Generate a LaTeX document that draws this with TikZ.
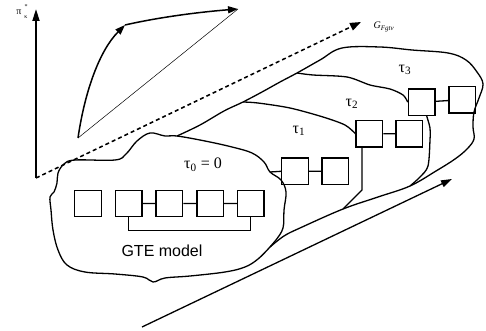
\documentclass[tikz,border=0pt]{standalone}
\usepackage{fontspec}
\setmainfont{Liberation Serif}
\setsansfont{Liberation Sans}
\usetikzlibrary{arrows.meta,positioning}

\begin{document}
\begin{tikzpicture}[x=1pt,y=-1pt,
    cell/.style={draw,line width=1.4pt,minimum size=26.5pt,inner sep=0pt},
    blob/.style={line width=1.3pt,line join=round},
    link/.style={line width=1.3pt},
    lbl/.style={font=\fontsize{16}{19}\selectfont,inner sep=0pt},
    small/.style={font=\fontsize{10}{12}\selectfont,inner sep=0pt},
    tiny/.style={font=\fontsize{6}{7}\selectfont,inner sep=0pt}]
		\useasboundingbox (0,0) rectangle (486,331);
		
		% --- Boxes ---
		\node[cell] (g1) at (88,203.5) {};
		\node[cell] (g2) [right=12.8pt of g1] {};
		\node[cell] (g3) [right=12.8pt of g2] {};
		\node[cell] (g4) [right=12.8pt of g3] {};
		\node[cell] (g5) [right=12.8pt of g4] {};
		\node[cell] (t1a) at (295,171.3) {};
		\node[cell] (t1b) [right=12.5pt of t1a] {};
		\node[cell] (t2a) at (369.3,133.7) {};
		\node[cell] (t2b) [right=12.2pt of t2a] {};
		\node[cell] (t3a) at (421.7,102.2) {};
		\node[cell] (t3b) [right=12.5pt of t3a, yshift=2.5pt] {};
		
		% --- Labels ---
		\node[lbl] (tau0) at (203,165) {τ\textsubscript{0} = 0};
		\node[lbl] (tau1) at (299,131) {τ\textsubscript{1}};
		\node[lbl] (tau2) at (352,104) {τ\textsubscript{2}};
		\node[lbl] (tau3) at (405,70) {τ\textsubscript{3}};
		\node[lbl, font=\sffamily\fontsize{16}{19}\selectfont] (gte) at (162,251) {GTE model};
		\node[small] (pilbl) at (19,12) {π};
		\node[tiny] (pisup) at (26,7) {*};
		\node[tiny] (pisub) at (26,17) {κ};
		\node[small] (glbl) at (384,27) {\textit{G}\textsubscript{\textit{Fgtv}}};
		
		% --- Axes ---
		\coordinate (o) at (36,178);
		\coordinate (ytop) at (36,9);
		\coordinate (gtop) at (361,22);
		\draw[-{Triangle[length=12pt,width=7pt]}, line width=1.8pt] (o) -- (ytop);
		\draw[-{Triangle[length=11pt,width=8pt]}, line width=1.5pt, dash pattern=on 4pt off 3pt] (o) -- (gtop);
		
		% --- Path in the plane ---
		\coordinate (p0) at (78,138);
		\coordinate (p1) at (125,25);
		\coordinate (p2) at (238,9);
		\draw[line width=0.5pt] (p0) -- (p2);
		\draw[-{Triangle[length=10pt,width=7pt]}, line width=1.5pt] (p0) .. controls (85,90) and (100,50) .. (p1);
		\draw[-{Triangle[length=10pt,width=7pt]}, line width=1.5pt] (p1) .. controls (160,17) and (200,12) .. (p2);
		
		% --- Regions ---
		\draw[blob] plot[smooth cycle, tension=0.6] coordinates {(58,173) (64,164) (75,160) (115,160) (126,154) (137,141) (150,133) (165,136) (177,136) (205,141) (232,147) (252,153) (264,162) (270,172) (281,180) (286,192) (284,210) (283,228) (276,240) (270,247) (258,259) (245,267) (225,272) (190,276) (165,278) (153,282) (143,277) (115,274) (85,272) (67,265) (58,250) (53,230) (51,210) (50,197) (54,192) (57,183)};
		\draw[blob] plot[smooth, tension=0.6] coordinates {(177,136) (200,125) (224,111) (243,102) (262,92) (280,82) (297,73) (320,60) (342,48) (380,47) (412,50) (448,53) (466,60) (477,72) (483,84) (479,98) (474,112) (473,127) (474,139) (467,149) (455,159) (436,171) (410,186) (378,197) (343,209) (300,228) (284,236) (270,247)};
		\draw[blob] plot[smooth] coordinates {(243,102) (258,103) (290,108) (323,117) (345,125) (t2a.west)};
		\draw[blob] plot[smooth] coordinates {(297,73) (313,75) (347,77) (370,85) (390,89) (403,95) (t3a.west)};
		\draw[blob] ([xshift=-7.3pt]t2a.south) -- (362,190) -- (343,209);
		\draw[blob] plot[smooth] coordinates {([xshift=5pt]t3a.south) (430,128) (430,140) (428,166) (420,177) (410,186)};
		
		% --- Links ---
		\coordinate (c1) at (270,172);
		\draw[link] (c1) -- (t1a.west);
		\draw[link] (g2) -- (g3) (g3) -- (g4) (g4) -- (g5)
		(t1a) -- (t1b) (t2a) -- (t2b) (t3a) -- (t3b);
		\draw[link] (g2.south) -- ++(0,13) -| (g5.south);
		
		% --- Time arrow ---
		\coordinate (b0) at (142,327);
		\coordinate (b1) at (452,179);
		\draw[-{Triangle[length=11pt,width=7pt]}, line width=1.3pt] (b0) -- (b1);
	\end{tikzpicture}
\end{document}
